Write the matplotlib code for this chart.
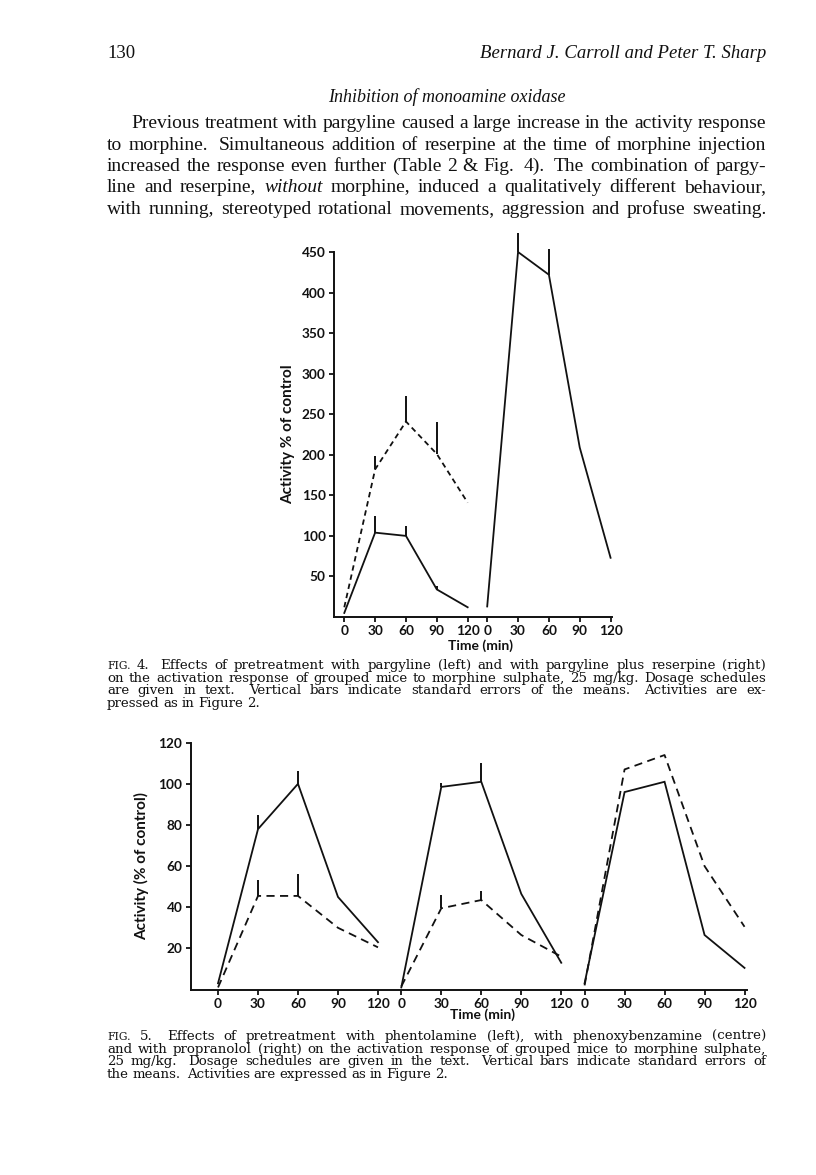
import numpy as np
import matplotlib
matplotlib.use('Agg')
import matplotlib.pyplot as plt

# ---- data ----
times = [0, 30, 60, 90, 120]

# Fig. 4 : pargyline (left), pargyline + reserpine (right)
f4_left_solid = [5, 104, 100, 34, 12]
f4_left_solid_se = [0, 20, 12, 4, 0]
f4_left_dashed = [12, 182, 241, 201, 141]
f4_left_dashed_se = [0, 17, 32, 40, 0]
f4_right_solid = [13, 450, 422, 209, 73]
f4_right_solid_se = [0, 24, 32, 0, 0]
f4_yticks = [50, 100, 150, 200, 250, 300, 350, 400, 450]

# Fig. 5 : phentolamine (left), phenoxybenzamine (centre), propranolol (right)
f5_solid = [[3, 78, 100, 45, 23],
            [1, 98.5, 101, 46.5, 13],
            [3, 96, 101, 26.5, 10.5]]
f5_solid_se = [[0, 7, 6, 0, 0],
               [0, 2, 9, 0, 0],
               [0, 0, 0, 0, 0]]
f5_dashed = [[1, 45.5, 45.5, 30, 20.5],
             [1.5, 39.5, 43.5, 26.5, 16],
             [2, 107, 114, 60, 30.5]]
f5_dashed_se = [[0, 7.5, 10.5, 0, 0],
                [0, 6.5, 4.5, 0, 0],
                [0, 0, 0, 0, 0]]
f5_yticks = [20, 40, 60, 80, 100, 120]

header_left = '130'
header_right = 'Bernard J. Carroll and Peter T. Sharp'
section_title = 'Inhibition of monoamine oxidase'
body_lines = [
    'Previous treatment with pargyline caused a large increase in the activity response',
    'to morphine.  Simultaneous addition of reserpine at the time of morphine injection',
    'increased the response even further (Table 2 & Fig. 4).  The combination of pargy-',
    'line and reserpine, _without_ morphine, induced a qualitatively different behaviour,',
    'with running, stereotyped rotational movements, aggression and profuse sweating.',
]
cap4_lines = [
    'FIG. 4.  Effects of pretreatment with pargyline (left) and with pargyline plus reserpine (right)',
    'on the activation response of grouped mice to morphine sulphate, 25 mg/kg. Dosage schedules',
    'are given in text.  Vertical bars indicate standard errors of the means.  Activities are ex-',
    'pressed as in Figure 2.',
]
cap5_lines = [
    'FIG. 5.  Effects of pretreatment with phentolamine (left), with phenoxybenzamine (centre)',
    'and with propranolol (right) on the activation response of grouped mice to morphine sulphate,',
    '25 mg/kg.  Dosage schedules are given in the text.  Vertical bars indicate standard errors of',
    'the means.  Activities are expressed as in Figure 2.',
]

W, H = 816, 1175
fig = plt.figure(figsize=(W / 100, H / 100), dpi=100)
renderer = fig.canvas.get_renderer()
SERIF = 'Liberation Serif'
CAPSERIF = 'DejaVu Serif'
SANS = 'Lato'
INK = '#111111'


def natural_width(line, size, family):
    t = fig.text(0, 0, line.replace('_', '').replace('  ', ' '), fontsize=size, family=family)
    w = t.get_window_extent(renderer).width
    t.remove()
    return w


def put_line(line, x0, x1, y, size, family, justify=True):
    # place words one by one so the line is justified like the print
    words = line.split()
    items, weights = [], []
    for i, w in enumerate(words):
        style = 'normal'
        fs = size
        if w.startswith('_'):
            w = w.replace('_', '')
            style = 'italic'
        if w == 'FIG.':
            fs = size * 0.8
        t = fig.text(0, 1 - y / H, w, fontsize=fs, family=family, style=style,
                     va='baseline', color=INK)
        items.append(t)
        if i > 0:
            prev = words[i - 1]
            wide = prev.endswith('.') and '  ' in line and prev != 'FIG.'
            weights.append(1.6 if wide else 1.0)
    widths = [t.get_window_extent(renderer).width for t in items]
    if justify and len(items) > 1:
        unit = (x1 - x0 - sum(widths)) / sum(weights)
    else:
        unit = size * 100 / 72 * 0.28
    x = x0
    for i, (t, w) in enumerate(zip(items, widths)):
        t.set_x(x / W)
        if i < len(weights):
            x += w + unit * weights[i]


# ---- page text ----
fig.text(107 / W, 1 - 58 / H, header_left, fontsize=13.5, family=SERIF, va='baseline', color=INK)
fig.text(766 / W, 1 - 58 / H, header_right, fontsize=13.5, family=SERIF, style='italic',
         ha='right', va='baseline', color=INK)
fig.text(447 / W, 1 - 102 / H, section_title, fontsize=13, family=SERIF, style='italic',
         ha='center', va='baseline', color=INK)
for i, line in enumerate(body_lines):
    put_line(line, 131 if i == 0 else 107, 766, 128 + i * 21.5, 14, SERIF)

# caption size: widest justified line fills the measure with ordinary spacing
widest = max(natural_width(l, 10, CAPSERIF) for l in cap4_lines[:3] + cap5_lines[:3])
cap_size = min(10 * (766 - 107) / widest * 0.985, 10.6)
for i, line in enumerate(cap4_lines):
    put_line(line, 107, 766, 669 + i * 12.7, cap_size, CAPSERIF, justify=i < 3)
for i, line in enumerate(cap5_lines):
    put_line(line, 107, 766, 1040 + i * 12.7, cap_size, CAPSERIF, justify=i < 3)


def style_axes(ax):
    for s in ['top', 'right']:
        ax.spines[s].set_visible(False)
    for s in ['left', 'bottom']:
        ax.spines[s].set_linewidth(1.4)
        ax.spines[s].set_color(INK)
    ax.tick_params(direction='out', length=3.5, width=1.3, color=INK,
                   labelsize=9.8, pad=2.5)
    for lab in ax.get_xticklabels() + ax.get_yticklabels():
        lab.set_family(SANS)
        lab.set_fontweight('bold')
        lab.set_color(INK)
    ax.patch.set_alpha(0)


def plot_series(ax, xs, ys, se, dashed, dashes):
    ax.plot(xs, ys, color=INK, lw=1.3,
            linestyle=(0, dashes) if dashed else '-', clip_on=False,
            solid_joinstyle='miter', dash_capstyle='butt')
    for x, y, e in zip(xs, ys, se):
        if e > 0:
            ax.vlines(x, y, y + e, color=INK, lw=1.4, clip_on=False)


# ---- Fig. 4 ----
off4 = 139
ax4 = fig.add_axes([334 / W, 1 - 617 / H, 277.6 / W, 365 / H])
t_left = np.array(times)
t_right = np.array(times) + off4
plot_series(ax4, t_left, f4_left_solid, f4_left_solid_se, False, None)
plot_series(ax4, t_left, f4_left_dashed, f4_left_dashed_se, True, (3, 2.2))
plot_series(ax4, t_right, f4_right_solid, f4_right_solid_se, False, None)
ax4.set_xlim(-10, 260)
ax4.set_ylim(0, 450)
ax4.set_xticks(list(t_left) + list(t_right))
ax4.set_xticklabels([str(t) for t in times] * 2)
ax4.set_yticks(f4_yticks)
ax4.set_yticklabels([str(v) for v in f4_yticks])
style_axes(ax4)
ax4.set_ylabel('Activity % of control', family=SANS, fontweight='bold', fontsize=11,
               color=INK)
ax4.yaxis.set_label_coords(-(334 - 295) / 277.6, 0.5)
ax4.set_xlabel('Time (min)', family=SANS, fontweight='bold', fontsize=10,
               color=INK)
ax4.xaxis.set_label_coords((480 - 334) / 277.6, -(639 - 617) / 365)

# ---- Fig. 5 ----
off5 = 137.5
ax5 = fig.add_axes([190.7 / W, 1 - 989.5 / H, 556.5 / W, 246.8 / H])
all_ticks = []
for k in range(3):
    xs = np.array(times) + k * off5
    all_ticks += list(xs)
    plot_series(ax5, xs, f5_dashed[k], f5_dashed_se[k], True, (4.5, 3))
    plot_series(ax5, xs, f5_solid[k], f5_solid_se[k], False, None)
ax5.set_xlim(-20.5, 397)
ax5.set_ylim(0, 120)
ax5.set_xticks(all_ticks)
ax5.set_xticklabels([str(t) for t in times] * 3)
ax5.set_yticks(f5_yticks)
ax5.set_yticklabels([str(v) for v in f5_yticks])
style_axes(ax5)
ax5.set_ylabel('Activity (% of control)', family=SANS, fontweight='bold', fontsize=11,
               color=INK)
ax5.yaxis.set_label_coords(-(190.7 - 149) / 556.5, 0.5)
ax5.set_xlabel('Time (min)', family=SANS, fontweight='bold', fontsize=10,
               color=INK)
ax5.xaxis.set_label_coords((482 - 190.7) / 556.5, -(1008 - 989.5) / 246.8)

fig.savefig('out.png', dpi=100, facecolor='white')
